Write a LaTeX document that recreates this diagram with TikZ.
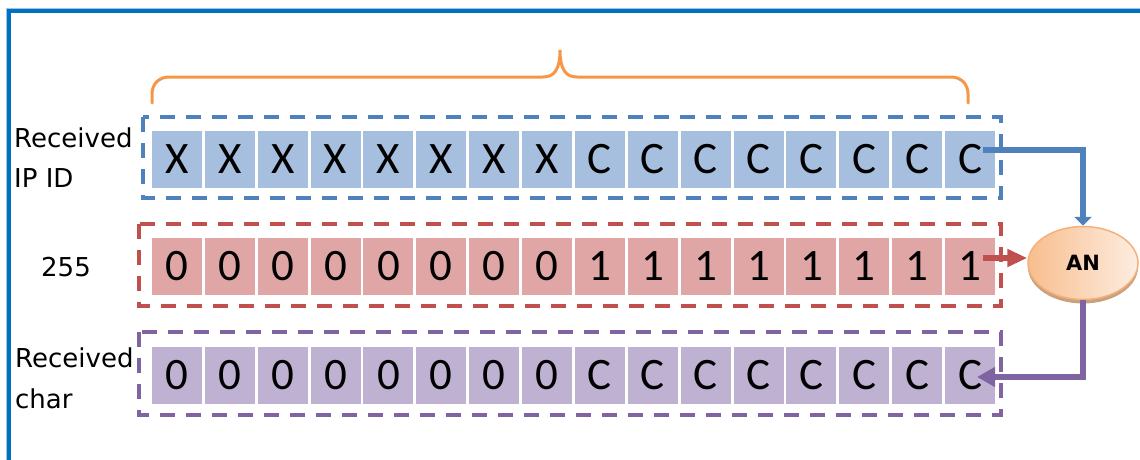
\documentclass[tikz,border=0pt]{standalone}
\usepackage{fontspec}
\usetikzlibrary{arrows.meta,calc,shapes.geometric,shadows}
\newfontfamily\lblfont{DejaVu Sans}
\newfontfamily\cellfont{Carlito}
\definecolor{frameblue}{HTML}{0070C0}
\definecolor{framelight}{HTML}{9DC3E6}
\definecolor{bluefill}{HTML}{A7BFDE}
\definecolor{redfill}{HTML}{E0A6A6}
\definecolor{purplefill}{HTML}{BFB1D1}
\definecolor{blueline}{HTML}{4F81BD}
\definecolor{redline}{HTML}{C0504D}
\definecolor{purpleline}{HTML}{8064A2}
\definecolor{braceorange}{HTML}{F79646}
\definecolor{ellorange}{HTML}{F8BE8E}
\definecolor{ellmid}{HTML}{FCDDC6}
\definecolor{elllight}{HTML}{FDEDE1}
\definecolor{ellborder}{HTML}{F5B07A}
\definecolor{ellshadow}{HTML}{C8A27F}
\begin{document}
\begin{tikzpicture}[x=1pt,y=-1pt,
  cell/.style={rectangle, minimum width=50pt, minimum height=57pt, inner sep=0pt,
    font=\cellfont\fontsize{45}{45}\selectfont},
  bcell/.style={cell, fill=bluefill},
  rcell/.style={cell, fill=redfill},
  pcell/.style={cell, fill=purplefill},
  rowbox/.style={line width=3.4pt, dash pattern=on 15pt off 11pt},
  lbl/.style={font=\lblfont\fontsize{26}{30}\selectfont, inner sep=0pt},
  link/.style={line width=5.5pt},
]
\useasboundingbox (0,0) rectangle (1140,460);

% outer frame (only top and left edges fall inside the page)
\draw[framelight, line width=1.2pt] (6.5,460) -- (6.5,8.5) -- (1140,8.5);
\draw[frameblue, line width=4pt] (9.4,460) -- (9.4,11.3) -- (1140,11.3);

% brace over the top row
\draw[braceorange, line width=3pt, line cap=round]
  (152,103) -- (152,94) .. controls (152,84) and (159,77) .. (169,77)
  -- (543,77) .. controls (554,77) and (560,70) .. (560,50)
  .. controls (560,70) and (566,77) .. (577,77)
  -- (951,77) .. controls (961,77) and (968,84) .. (968,94) -- (968,103);

% the three rows of cells
\foreach \i in {1,...,16} {
  \node[bcell] (b\i) at ({177+(\i-1)*52.87},159.5) {\ifnum\i<9 X\else C\fi};
  \node[rcell] (r\i) at ({177+(\i-1)*52.87},266) {\ifnum\i<9 0\else 1\fi};
  \node[pcell] (p\i) at ({177+(\i-1)*52.87},375) {\ifnum\i<9 0\else C\fi};
}

% row labels
\node[lbl, anchor=base west] (lblA1) at (14,147) {Received};
\node[lbl, anchor=base west] (lblA2) at (14,187) {IP ID};
\node[lbl] (lblB) at (66,267) {255};
\node[lbl, anchor=base west] (lblC1) at (15,367) {Received};
\node[lbl, anchor=base west] (lblC2) at (15,408) {char};

% AND operator
\node[ellipse, minimum width=110pt, minimum height=73pt, draw=ellborder, line width=1.5pt,
  left color=ellorange, middle color=ellmid, right color=elllight,
  drop shadow={shadow xshift=0pt, shadow yshift=-4pt, fill=ellshadow, opacity=1},
  font=\lblfont\bfseries\fontsize{21}{21}\selectfont] (an) at (1083,263) {AN};

% connectors
\coordinate (bs) at ($(b16.center)+(13,-9.5)$);
\coordinate (rs) at ($(r16.center)+(13,-8)$);
\coordinate (pe) at ($(p16.center)+(7,2)$);
\draw[link, blueline, -{Triangle[length=9pt,width=17pt]}] (bs) -| (an.north);
\draw[link, redline, -{Triangle[length=20pt,width=17pt]}] (rs) -- (rs -| an.west);
\draw[link, purpleline, -{Triangle[length=18pt,width=19pt]}] (an.south) |- (pe);

% dashed row frames
\draw[rowbox, blueline] (143,117) rectangle (1001,198);
\draw[rowbox, redline] (139,224) rectangle (1001,306);
\draw[rowbox, purpleline] (139,332) rectangle (1001,415);
\end{tikzpicture}
\end{document}
